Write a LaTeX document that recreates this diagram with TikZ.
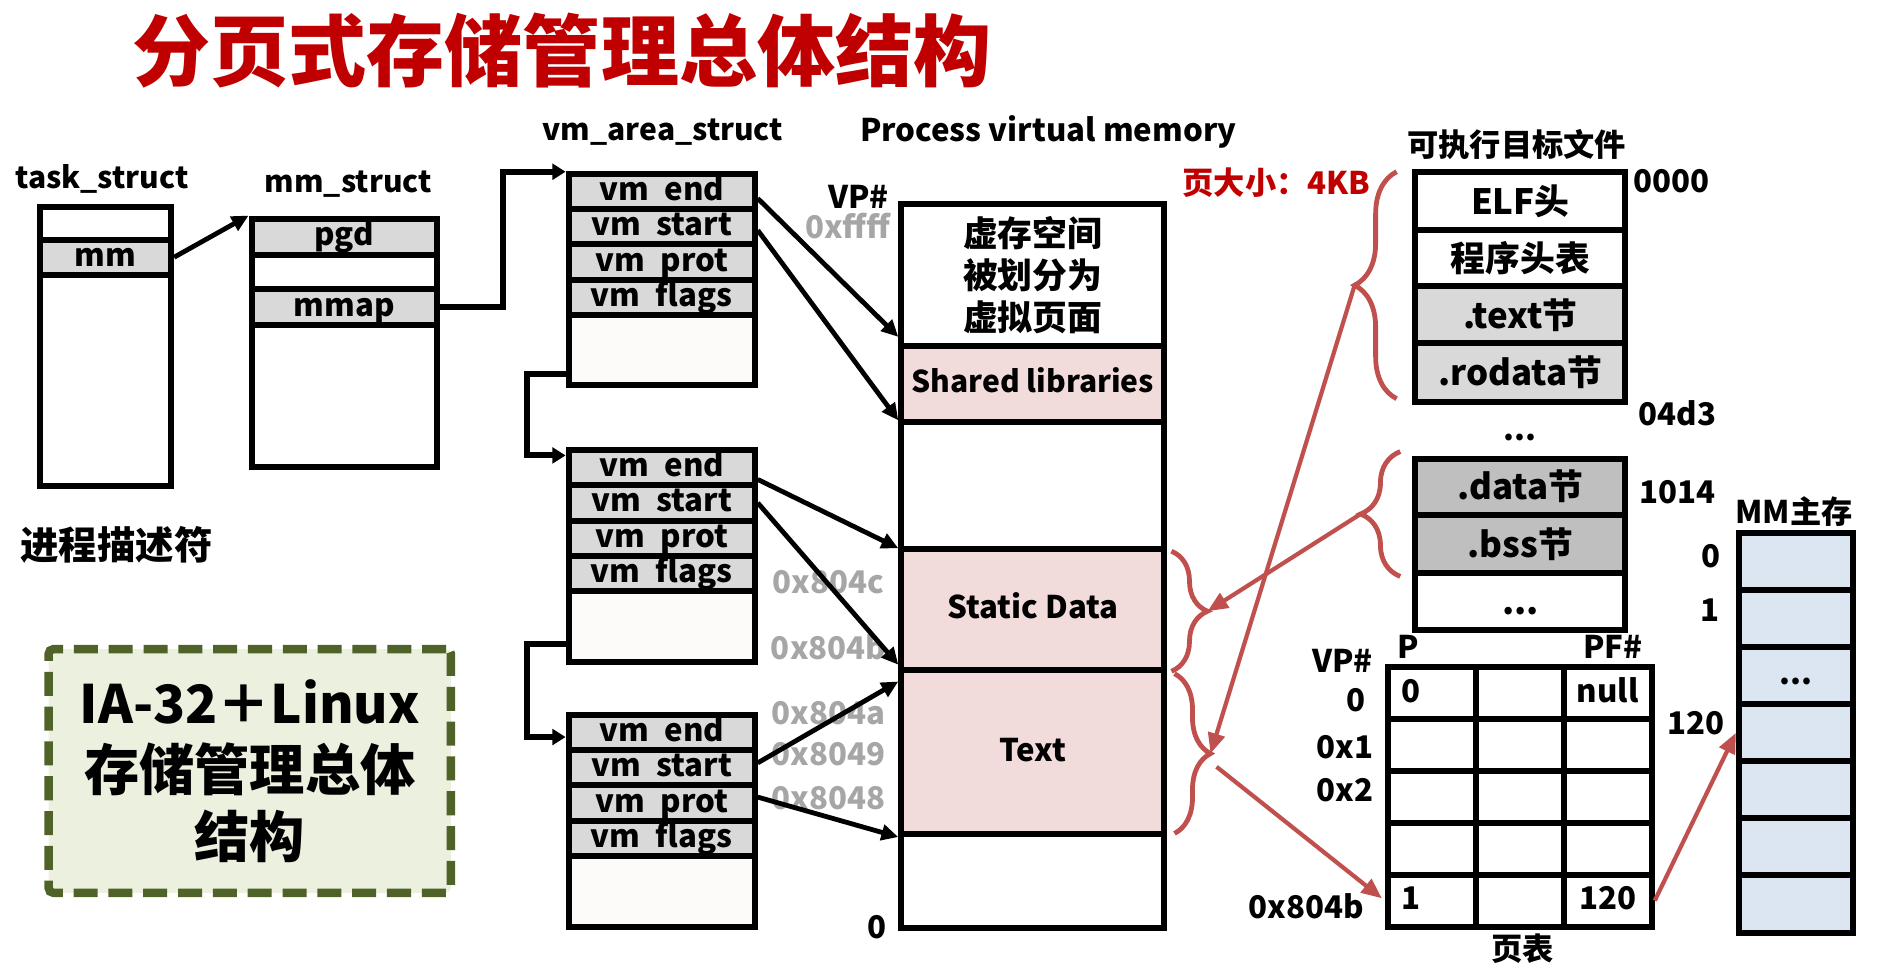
\documentclass[tikz,border=0pt]{standalone}
\usepackage{fontspec}
\setmainfont{Noto Sans CJK SC}
\usepackage{tikz}
\usetikzlibrary{arrows.meta,decorations.pathreplacing}

\definecolor{TitleRed}{RGB}{192,0,0}
\definecolor{BraceRed}{RGB}{192,80,77}
\definecolor{CellGray}{RGB}{217,217,217}
\definecolor{DarkGray}{RGB}{191,191,191}
\definecolor{PinkFill}{RGB}{242,220,219}
\definecolor{BlueFill}{RGB}{220,230,242}
\definecolor{GreenFill}{RGB}{235,241,222}
\definecolor{GreenLine}{RGB}{79,98,40}
\definecolor{AddrGray}{RGB}{166,166,166}
\definecolor{RestFill}{RGB}{252,251,249}
\newcommand{\fsz}[1]{\fontsize{#1}{#1}\bfseries\selectfont}

\begin{document}
\begin{tikzpicture}[x=1pt, y=-1pt]
		\tikzstyle{Cell}	= [rectangle, draw, line width=5pt, inner sep=0pt, fill=white]
		\tikzstyle{Row}		= [Cell, font=\fsz{26}, text height=20pt, text depth=5pt]
		\tikzstyle{Gray}	= [fill=CellGray]
		\tikzstyle{Dark}	= [fill=DarkGray]
		\tikzstyle{Pink}	= [fill=PinkFill]
		\tikzstyle{Rest}	= [fill=RestFill]
		\tikzstyle{Task}	= [Row, minimum width=109pt]
		\tikzstyle{MMS}		= [Row, minimum width=154pt]
		\tikzstyle{Area}	= [Row, minimum width=155pt, minimum height=29.5pt]
		\tikzstyle{VM}		= [Row, minimum width=219pt]
		\tikzstyle{ELF}		= [Row, font=\fsz{29}, text height=26pt, text depth=4pt, minimum width=175pt]
		\tikzstyle{PT}		= [Row, minimum width=73.3pt, minimum height=43.2pt]
		\tikzstyle{Frame}	= [Row, fill=BlueFill, minimum width=95pt, minimum height=47.5pt]
		\tikzstyle{Label}	= [inner sep=0pt, font=\fsz{26}]
		\tikzstyle{Addr}	= [Label, text=AddrGray]
		\tikzstyle{Link}	= [line width=4pt, -{Triangle[length=14pt, width=13pt]}]
		\tikzstyle{Elbow}	= [line width=5pt, -{Triangle[length=11pt, width=13pt]}]
		\tikzstyle{Map}		= [BraceRed, line width=3.5pt, -{Triangle[length=17pt, width=14pt]}]
		\tikzstyle{Brace}	= [BraceRed, line width=4pt, decorate]

		\useasboundingbox (0,0) rectangle (1568,814);

		\node (title) at (468,42) [Label, font=\fsz{65}, text=TitleRed] {分页式存储管理总体结构};

		% task_struct
		\node (tasklabel) at (85,149) [Label, font=\fsz{25}] {task\_struct};
		\node (t0) at (88,186.25) [Task, minimum height=27pt] {};
		\node (mm) at (88,214.2) [Task, Gray, minimum height=29pt] {mm};
		\node (t2) at (88,316.85) [Task, minimum height=176.3pt] {};
		\node (procdesc) at (97,454) [Label, font=\fsz{32}] {进程描述符};

		% mm_struct
		\node (mmlabel) at (290,153) [Label, font=\fsz{25}] {mm\_struct};
		\node (pgd) at (286.5,197) [MMS, Gray, minimum height=30pt] {pgd};
		\node (m1) at (286.5,226.5) [MMS, minimum height=29pt] {};
		\node (mmap) at (286.5,256) [MMS, Gray, minimum height=30pt] {mmap};
		\node (m3) at (286.5,330) [MMS, minimum height=118pt] {};

		% vm_area_struct
		\node (arealabel) at (552,110) [Label, font=\fsz{25}] {vm\_area\_struct};
		\node (ar1end) at (551,159.25) [Area, Gray] {vm\enspace end};
		\node (ar1start) at (551,188.75) [Area, Gray] {vm\enspace start};
		\node (ar1prot) at (551,218.25) [Area, Gray] {vm\enspace prot};
		\node (ar1flags) at (551,247.75) [Area, Gray] {vm\enspace flags};
		\node (ar1rest) at (551,291.75) [Area, Rest, minimum height=58.5pt] {};

		\node (ar2end) at (551,389.25) [Area, Gray] {vm\enspace end};
		\node (ar2start) at (551,418.75) [Area, Gray] {vm\enspace start};
		\node (ar2prot) at (551,448.25) [Area, Gray] {vm\enspace prot};
		\node (ar2flags) at (551,477.75) [Area, Gray] {vm\enspace flags};
		\node (ar2rest) at (551,521.75) [Area, Rest, minimum height=58.5pt] {};

		\node (ar3end) at (551,609.75) [Area, Gray] {vm\enspace end};
		\node (ar3start) at (551,639.25) [Area, Gray] {vm\enspace start};
		\node (ar3prot) at (551,668.75) [Area, Gray] {vm\enspace prot};
		\node (ar3flags) at (551,698.25) [Area, Gray] {vm\enspace flags};
		\node (ar3rest) at (551,742.25) [Area, Rest, minimum height=58.5pt] {};

		% process virtual memory
		\node (vmlabel) at (873,110) [Label] {Process virtual memory};
		\node (vtop) at (860,229) [Cell, minimum width=219pt, minimum height=118pt, align=center, font={\fontsize{29}{35}\bfseries\selectfont}] {虚存空间\\被划分为\\虚拟页面};
		\node (shlib) at (860,319.75) [VM, Pink, font=\fsz{25}, minimum height=63.5pt] {Shared libraries};
		\node (vgap) at (860,404.25) [VM, minimum height=105.5pt] {};
		\node (sdata) at (860,507.5) [VM, Pink, minimum height=101pt] {Static Data};
		\node (code) at (860,626.25) [VM, Pink, minimum height=136.5pt] {Text};
		\node (vbot) at (860,733.5) [VM, minimum height=78pt] {};

		\node (vphash) at (715,164) [Label] {VP\#};
		\node (adffff) at (706,188) [Addr] {0xffff};
		\node (ad804c) at (690,485) [Addr] {0x804c};
		\node (ad804b) at (690,539) [Addr] {0x804b};
		\node (ad804a) at (690,594) [Addr] {0x804a};
		\node (ad8049) at (690,628) [Addr] {0x8049};
		\node (ad8048) at (690,665) [Addr] {0x8048};
		\node (vzero) at (730,772) [Label] {0};

		% executable file
		\node (filelabel) at (1263,120) [Label] {可执行目标文件};
		\node (elfhdr) at (1266,167.5) [ELF, minimum height=48pt] {ELF头};
		\node (proghdr) at (1266,215) [ELF, minimum height=47pt] {程序头表};
		\node (textsec) at (1266,262.25) [ELF, Gray, minimum height=47.5pt] {.text节};
		\node (rodata) at (1266,310.25) [ELF, Gray, minimum height=48.5pt] {.rodata节};
		\node (gapdots) at (1266,364) [Label] {...};
		\node (datasec) at (1266,405.25) [ELF, Dark, minimum height=46.5pt] {.data节};
		\node (bsssec) at (1266,453) [ELF, Dark, minimum height=49pt] {.bss节};
		\node (moresec) at (1266,501) [ELF, minimum height=47pt] {...};
		\node (off0) at (1392,151) [Label] {0000};
		\node (off1) at (1397,344.5) [Label] {04d3};
		\node (off2) at (1397,410) [Label] {1014};
		\node (pagesize) at (1063,152) [Label, text=TitleRed] {页大小：4KB};

		% page table
		\node (ptvp) at (1118,550) [Label] {VP\#};
		\node (ptp) at (1173,539) [Label] {P};
		\node (ptpf) at (1343,539) [Label] {PF\#};
		\node (vp0) at (1129,583) [Label] {0};
		\node (vp1) at (1120,622) [Label] {0x1};
		\node (vp2) at (1120,658) [Label] {0x2};
		\node (vp804b) at (1088,755) [Label] {0x804b};
		\node (pt00) at (1192.2,577.1) [PT] {\makebox[50pt][l]{0}};
		\node (pt01) at (1265.5,577.1) [PT] {};
		\node (pt02) at (1338.8,577.1) [PT] {null};
		\node (pt10) at (1192.2,620.3) [PT] {};
		\node (pt11) at (1265.5,620.3) [PT] {};
		\node (pt12) at (1338.8,620.3) [PT] {};
		\node (pt20) at (1192.2,663.5) [PT] {};
		\node (pt21) at (1265.5,663.5) [PT] {};
		\node (pt22) at (1338.8,663.5) [PT] {};
		\node (pt30) at (1192.2,706.7) [PT] {};
		\node (pt31) at (1265.5,706.7) [PT] {};
		\node (pt32) at (1338.8,706.7) [PT] {};
		\node (pt40) at (1192.2,749.9) [PT] {\makebox[50pt][l]{1}};
		\node (pt41) at (1265.5,749.9) [PT] {};
		\node (pt42) at (1338.8,749.9) [PT] {120};
		\node (ptlabel) at (1268,790) [Label] {页表};

		% main memory
		\node (memlabel) at (1494,426) [Label] {MM主存};
		\node (f0) at (1495.5,467.75) [Frame] {};
		\node (f1) at (1495.5,515.25) [Frame] {};
		\node (f2) at (1495.5,562.75) [Frame] {...};
		\node (f3) at (1495.5,610.25) [Frame] {};
		\node (f4) at (1495.5,657.75) [Frame] {};
		\node (f5) at (1495.5,705.25) [Frame] {};
		\node (f6) at (1495.5,752.75) [Frame] {};
		\node (fn0) at (1425,463.5) [Label] {0};
		\node (fn1) at (1424,508) [Label] {1};
		\node (fn120) at (1412,602.5) [Label] {120};

		% summary box
		\node (summary) at (208,642) [draw=GreenLine, line width=7pt, dash pattern=on 20pt off 9pt, fill=GreenFill, rounded corners=4pt, minimum width=335pt, minimum height=203pt, inner sep=0pt, align=center, font={\fontsize{46}{56}\bfseries\selectfont}] {{\fontsize{44}{56}\selectfont IA-32＋Linux}\\存储管理总体\\结构};

		% pointers
		\draw [Link] (mm.east) to (pgd.north west);
		\draw [Elbow] (mmap.east) -- ++(53,0) |- ([yshift=-1pt]ar1end.north west);
		\draw [Elbow] ([yshift=-19.5pt]ar1rest.west) -- ++(-32,0) |- ([yshift=10pt]ar2end.west);
		\draw [Elbow] ([yshift=-14.5pt]ar2rest.west) -- ++(-32,0) |- ([yshift=-4pt]ar3end.west);

		\draw [Link] ([yshift=-6pt]ar1end.east) to ([yshift=5pt]shlib.north west);
		\draw [Link] ([yshift=-3pt]ar1start.east) to ([yshift=4pt]shlib.south west);
		\draw [Link] ([yshift=-10pt]ar2end.east) to ([yshift=-2pt]sdata.north west);
		\draw [Link] (ar2start.east) to ([yshift=7pt]sdata.south west);
		\draw [Link] ([yshift=4pt]ar3start.east) to ([yshift=-12pt]code.north west);
		\draw [Link] ([yshift=5pt]ar3prot.east) to (code.south west);

		% braces and mapping
		\coordinate (b1tip) at (1128,237.5);
		\coordinate (b2tip) at (1133,428);
		\coordinate (b3tip) at (1005.5,509);
		\coordinate (b4tip) at (1008,627.5);
		\coordinate (codeout) at (1013,638.5);
		\draw [Brace, decoration={brace, amplitude=35pt}] (1163,332) -- (1163,143);
		\draw [Brace, decoration={brace, amplitude=33pt}] (1166,480) -- (1166,376);
		\draw [Brace, decoration={brace, amplitude=30pt}] (975.5,459) -- (975.5,559);
		\draw [Brace, decoration={brace, amplitude=30pt}] (978,561) -- (978,694);

		\draw [Map] (b1tip) -- (b4tip);
		\draw [Map] (b2tip) -- (b3tip);
		\draw [Map, shorten >=3pt] (codeout) -- (pt40.west);
		\draw [Map] (pt42.east) -- (f3.west);
	\end{tikzpicture}
\end{document}
